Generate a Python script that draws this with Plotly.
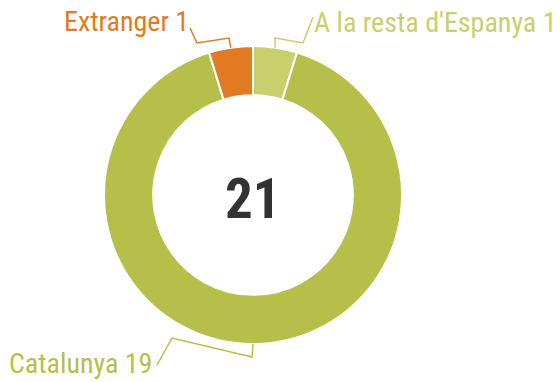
import math
import plotly.graph_objects as go

# Data
labels = ["A la resta d'Espanya", "Catalunya", "Extranger"]
values = [1, 19, 1]
colors = ["#c8d06e", "#b5bf4a", "#e07b24"]
total = sum(values)

W, H = 560, 382
CX, CY, R = 253, 195, 149   # donut centre / outer radius in px
HOLE = 0.67
FONT = "Liberation Sans Narrow, Roboto Condensed, Arial Narrow, sans-serif"


def px(x, y):
    """pixel (from top-left) -> paper coordinates"""
    return x / W, 1 - y / H


fig = go.Figure()
fig.add_trace(go.Pie(
    labels=labels,
    values=values,
    marker=dict(colors=colors, line=dict(color="white", width=2)),
    hole=HOLE,
    sort=False,
    direction="clockwise",
    rotation=0,
    textinfo="none",
    hoverinfo="label+value",
    domain=dict(x=[(CX - R) / W, (CX + R) / W],
                y=[1 - (CY + R) / H, 1 - (CY - R) / H]),
    showlegend=False,
))

# label placement (px) and connector bend points
label_layout = {
    "A la resta d'Espanya": dict(x=312, y=22, xanchor="left",
                                 bends=[(275, 38), (303, 43), (313, 17)]),
    "Catalunya": dict(x=7, y=363, xanchor="left",
                      bends=[(252, 357), (172, 338), (157, 365)]),
    "Extranger": dict(x=191, y=21, xanchor="right",
                      bends=[(229, 38), (197, 43), (190, 28)]),
}

shapes = []
annotations = []
cum = 0
for lab, val, col in zip(labels, values, colors):
    mid = (cum + val / 2) / total * 2 * math.pi
    cum += val
    ax = CX + R * math.sin(mid)
    ay = CY - R * math.cos(mid)
    lay = label_layout[lab]
    pts = [(ax, ay)] + lay["bends"]
    path = ""
    for i, (x, y) in enumerate(pts):
        pxx, pyy = px(x, y)
        path += ("M" if i == 0 else " L") + f"{pxx:.5f},{pyy:.5f}"
    shapes.append(dict(type="path", xref="paper", yref="paper", path=path,
                       line=dict(color=col, width=1.5)))
    lx, ly = px(lay["x"], lay["y"])
    annotations.append(dict(
        x=lx, y=ly, xref="paper", yref="paper", xanchor=lay["xanchor"],
        yanchor="middle", showarrow=False,
        text=f"{lab} {val}",
        font=dict(family=FONT, size=28, color=col),
    ))

# total in the centre
tx, ty = px(CX, 199)
annotations.append(dict(
    x=tx, y=ty, xref="paper", yref="paper", xanchor="center", yanchor="middle",
    showarrow=False, text=f"<b>{total}</b>",
    font=dict(family=FONT, size=55, color="#333333"),
))

fig.update_layout(
    width=W, height=H,
    margin=dict(l=0, r=0, t=0, b=0),
    paper_bgcolor="white",
    plot_bgcolor="white",
    shapes=shapes,
    annotations=annotations,
)

fig.write_html("out.html")
